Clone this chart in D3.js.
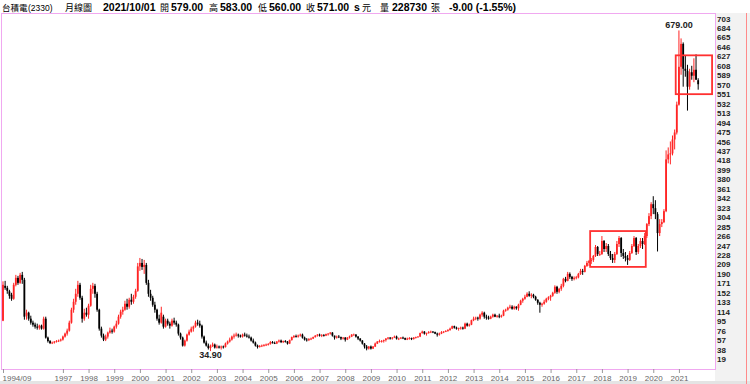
<!DOCTYPE html>
<html>
<head>
<meta charset="utf-8">
<script src="https://cdn.jsdelivr.net/npm/d3@7/dist/d3.min.js"></script>
<style>
  body { margin: 0; background: #fff; }
  svg { display: block; }
</style>
</head>
<body>
<svg id="chart" width="750" height="384"></svg>
<script>
// monthly candles, 1994/09 .. 2021/10, rows are [open, high, low, close]
var startYear = 1994, startMonth = 9;
var candles = [
  // 1994
  [96,175,95,168],[166,176,158,162],[162,166,150,156],[155,158,140,146],
  // 1995
  [148,152,136,140],[140,172,138,168],[168,188,165,182],[182,186,168,172],[172,192,170,188],[188,194,170,178],
  [178,182,98,104],[106,118,98,112],[112,114,96,100],[100,106,88,92],[92,96,84,88],[88,92,80,84],
  // 1996
  [84,90,78,82],[82,88,78,86],[86,88,78,80],[80,104,78,100],[100,104,60,62],[62,64,52,55],
  [55,57,49,51],[51,54,49,52],[52,55,50,54],[54,57,52,55],[55,58,53,56],[56,60,54,58],
  // 1997
  [58,66,56,64],[64,72,62,70],[70,80,66,76],[76,96,74,92],[92,122,90,118],[118,140,112,134],
  [134,160,128,150],[150,176,144,168],[168,172,138,142],[142,146,92,100],[100,120,96,112],[112,122,104,108],
  // 1998
  [108,130,100,126],[126,168,124,160],[160,172,150,166],[166,170,142,150],[150,154,114,118],[118,120,76,80],
  [80,84,62,66],[66,70,55,58],[58,68,55,64],[64,74,60,72],[72,82,70,76],[76,80,70,74],
  // 1999
  [74,86,72,84],[84,96,80,90],[90,108,88,104],[104,118,100,114],[114,124,108,118],[118,136,116,130],
  [130,140,118,124],[124,142,120,138],[138,150,128,134],[134,148,130,144],[144,160,140,156],[156,212,154,205],
  // 2000
  [205,222,196,212],[212,220,198,204],[204,218,190,208],[208,212,168,172],[172,178,144,150],[150,158,136,142],
  [142,146,124,128],[128,134,112,118],[118,120,96,100],[100,108,88,92],[92,124,90,112],[104,108,80,84],
  // 2001
  [84,100,82,96],[96,100,86,90],[90,94,80,86],[86,100,84,96],[96,102,88,92],[92,96,84,88],
  [88,90,66,70],[70,72,58,62],[62,64,44,46],[46,58,44,56],[56,70,54,68],[68,78,66,74],
  // 2002
  [74,84,72,80],[80,86,74,84],[84,96,82,92],[92,98,86,90],[90,96,82,86],[86,88,60,64],
  [64,66,50,52],[52,56,44,46],[46,50,38,41],[41,48,34.9,45],[45,52,43,48],[48,50,40,42],
  // 2003
  [42,48,40,44],[44,46,40,42],[42,46,38,44],[44,46,40,43],[43,52,42,50],[50,56,48,54],
  [54,62,52,58],[58,66,56,64],[64,70,60,66],[66,72,64,68],[68,70,62,66],[66,68,62,64],
  // 2004
  [64,70,62,68],[68,72,64,66],[66,70,62,64],[64,68,60,62],[62,64,54,56],[56,60,50,52],
  [52,54,44,46],[46,48,40,43],[43,47,42,45],[45,48,43,46],[46,49,44,47],[47,50,45,48],
  // 2005
  [48,51,46,49],[49,55,48,53],[53,55,50,51],[51,54,49,50],[50,55,49,54],[54,58,52,56],
  [56,58,51,53],[53,56,51,55],[55,57,52,54],[54,55,48,50],[50,58,49,57],[57,64,56,63],
  // 2006
  [63,67,61,65],[65,68,62,64],[64,68,62,66],[66,70,64,68],[68,70,60,62],[62,64,56,58],
  [58,61,54,57],[57,61,55,59],[59,62,57,60],[60,64,59,63],[63,67,62,66],[66,69,64,68],
  // 2007
  [68,70,64,66],[66,69,63,67],[67,69,64,66],[66,70,65,69],[69,71,66,70],[70,73,68,72],
  [72,73,64,66],[66,66,58,62],[62,66,60,64],[64,67,61,63],[63,64,57,60],[60,63,58,62],
  // 2008
  [62,63,54,58],[58,63,57,62],[62,66,60,64],[64,69,63,68],[68,70,66,68],[68,69,62,64],
  [64,65,57,60],[60,61,54,56],[56,57,48,50],[50,51,40,44],[44,47,36.4,40],[40,45,38,44],
  // 2009
  [44,46,38,40],[40,45,39,44],[44,52,43,50],[50,55,49,54],[54,58,52,55],[55,57,52,55],
  [55,58,52,57],[57,61,54,60],[60,63,58,62],[62,63,58,60],[60,63,58,62],[62,66,61,64],
  // 2010
  [64,66,58,60],[60,62,57,60],[60,63,59,62],[62,64,59,61],[61,62,57,58],[58,62,57,60],
  [60,63,58,61],[61,62,57,59],[59,63,58,62],[62,64,60,63],[63,65,62,64],[64,72,63,71],
  // 2011
  [71,76,70,74],[74,75,68,70],[70,72,66,71],[71,75,70,73],[73,76,71,74],[74,75,71,73],
  [73,74,69,70],[70,72,64,68],[68,72,66,70],[70,75,69,73],[73,75,71,74],[74,77,73,75],
  // 2012
  [75,79,74,77],[77,82,76,80],[80,86,79,85],[85,86,80,82],[82,84,78,80],[80,82,76,81],
  [81,84,78,82],[82,84,78,80],[80,92,79,90],[90,92,84,86],[86,90,84,88],[88,98,87,97],
  // 2013
  [97,104,95,100],[100,104,97,102],[102,104,96,100],[100,110,98,108],[108,115,104,112],[112,114,100,104],
  [104,108,98,102],[102,106,98,100],[100,106,99,104],[104,110,102,108],[108,110,103,104],[104,107,102,106],
  // 2014
  [106,110,101,104],[104,108,102,106],[106,118,105,116],[116,120,114,118],[118,124,116,122],[122,128,120,124],
  [124,127,118,120],[120,126,118,124],[124,125,118,121],[121,130,116,128],[128,138,127,136],[136,142,132,140],
  // 2015
  [140,148,138,144],[144,153,143,150],[150,155,144,146],[146,151,141,148],[148,150,141,144],[144,146,136,138],
  [138,139,128,132],[132,134,112,128],[128,132,124,130],[130,138,128,134],[134,142,132,140],[140,145,137,143],
  // 2016
  [143,148,136,146],[146,154,144,152],[152,167,150,164],[164,166,150,154],[154,162,151,160],[160,170,156,166],
  [166,182,163,180],[180,184,173,176],[176,194,175,190],[190,193,180,184],[184,186,176,180],[180,185,177,182],
  // 2017
  [182,186,179,183],[183,192,181,190],[190,200,188,196],[196,200,188,194],[194,208,193,206],[206,216,204,212],
  [212,218,206,216],[216,222,210,218],[218,228,214,226],[226,248,224,244],[244,246,226,230],[230,236,226,230],
  // 2018
  [230,266,228,256],[256,258,234,240],[240,252,234,246],[246,250,226,230],[230,236,218,222],[222,230,212,218],
  [218,234,212,230],[230,256,228,250],[250,266,244,262],[262,264,224,232],[232,240,220,226],[226,234,215,222],
  // 2019
  [222,228,208,218],[218,236,216,232],[232,250,230,246],[246,266,244,262],[262,264,228,234],[234,250,230,246],
  [246,262,242,256],[256,262,240,250],[250,272,248,266],[266,292,262,290],[290,312,286,306],[306,334,300,330],
  // 2020
  [330,346,310,322],[322,338,300,310],[310,314,235,272],[272,300,266,290],[290,300,284,294],[294,320,292,316],
  [316,438,314,420],[420,444,412,430],[430,456,410,432],[432,468,428,460],[460,480,440,474],[474,536,470,530],
  // 2021
  [530,679,528,606],[606,663,590,652],[652,655,566,602],[602,628,586,598],[598,610,518,566],[566,602,560,595],
  [595,608,580,588],[588,623,575,600],[600,631,580,580],[579,583,560,571]
];

var yTicks = [19,38,57,76,95,114,133,152,171,190,209,228,247,266,285,304,323,342,361,
              380,399,418,437,456,475,494,513,532,551,570,589,608,627,646,665,684,703];
var yearTicks = ["1994/09","1997/01","1998/01","1999/01","2000/01","2001/01","2002/01","2003/01",
                 "2004/01","2005/01","2006/01","2007/01","2008/01","2009/01","2010/01","2011/01",
                 "2012/01","2013/01","2014/01","2015/01","2016/01","2017/01","2018/01","2019/01",
                 "2020/01","2021/01"];
var yearLabels = ["1994/09","1997","1998","1999","2000","2001","2002","2003","2004","2005","2006",
                  "2007","2008","2009","2010","2011","2012","2013","2014","2015","2016","2017",
                  "2018","2019","2020","2021"];

// highlighted ranges drawn in red
var boxes = [
  { from: "2017/08", to: "2019/09", lo: 204, hi: 276 },
  { from: "2020/12", to: "2022/04", lo: 551, hi: 629 }
];

var headerParts = [
  { t: "台積電", x: 2, cls: "name" }, { t: "(2330)", x: 28, cls: "thin" },
  { t: "月線圖", x: 65, cls: "cjk" }, { t: "2021/10/01", x: 103, cls: "num" },
  { t: "開", x: 160, cls: "cjk" }, { t: "579.00", x: 171, cls: "num" },
  { t: "高", x: 209, cls: "cjk" }, { t: "583.00", x: 220, cls: "num" },
  { t: "低", x: 258, cls: "cjk" }, { t: "560.00", x: 269, cls: "num" },
  { t: "收", x: 306, cls: "cjk" }, { t: "571.00", x: 317, cls: "num" },
  { t: "s", x: 354, cls: "num" }, { t: "元", x: 362, cls: "cjk" },
  { t: "量", x: 380, cls: "cjk" }, { t: "228730", x: 392, cls: "num" },
  { t: "張", x: 431, cls: "cjk" }, { t: "-9.00 (-1.55%)", x: 449, cls: "num" }
];

function monthIndex(s) {
  var p = s.split("/");
  return (+p[0] - startYear) * 12 + (+p[1] - startMonth);
}

var svg = d3.select("#chart");
var plot = { left: 1, top: 13, right: 715, bottom: 369 };
var step = 2.139;

var x = d3.scaleLinear().domain([0, 325]).range([3, 3 + 325 * step]);
var y = d3.scaleLinear().domain([19, 703]).range([359, 18.5]);

// right axis panel and bottom strip
svg.append("rect").attr("x", plot.right).attr("y", plot.top).attr("width", 750 - plot.right)
  .attr("height", 384 - plot.top).attr("fill", "#f2f2f2");
svg.append("rect").attr("x", 0).attr("y", 381).attr("width", 750).attr("height", 3)
  .attr("fill", "#e4e4e4");
svg.append("line").attr("x1", 746.5).attr("x2", 746.5).attr("y1", plot.top).attr("y2", 384)
  .attr("stroke", "#ff8a8a").attr("stroke-width", 1);

// plot frame
svg.append("rect").attr("x", plot.left + 0.5).attr("y", plot.top + 0.5)
  .attr("width", plot.right - plot.left).attr("height", plot.bottom - plot.top)
  .attr("fill", "#fff").attr("stroke", "#f0a8f0").attr("stroke-width", 1);

// header
var fontSizes = { num: "10.5px", thin: "8.5px", cjk: "9px", name: "8.5px" };
svg.append("g").selectAll("text").data(headerParts).join("text")
  .attr("x", function(d) { return d.x; })
  .attr("y", 11)
  .attr("fill", "#000")
  .style("font-family", function(d) {
    if (d.cls === "cjk" || d.cls === "name") return "'Noto Sans CJK TC', sans-serif";
    if (d.cls === "thin") return "'Liberation Sans Narrow', 'Liberation Sans', sans-serif";
    return "'Liberation Sans', Arial, sans-serif";
  })
  .style("font-size", function(d) { return fontSizes[d.cls]; })
  .style("font-weight", function(d) { return d.cls === "num" ? "bold" : "normal"; })
  .text(function(d) { return d.t; });

// right axis
var yAxis = svg.append("g")
  .attr("transform", "translate(" + plot.right + ",0)")
  .call(d3.axisRight(y).tickValues(yTicks).tickSize(0).tickPadding(2));
yAxis.select(".domain").remove();
yAxis.selectAll("text")
  .attr("fill", "#222")
  .style("font-family", "'Liberation Sans', Arial, sans-serif")
  .style("font-size", "8px").style("font-weight", "bold");

// bottom axis
var xAxis = svg.append("g")
  .attr("transform", "translate(0," + plot.bottom + ")")
  .call(d3.axisBottom(x)
    .tickValues(yearTicks.map(monthIndex))
    .tickFormat(function(d, i) { return yearLabels[i]; })
    .tickSize(4).tickPadding(2));
xAxis.select(".domain").remove();
xAxis.selectAll(".tick line").attr("stroke", "#999");
xAxis.selectAll("text")
  .attr("fill", "#666")
  .style("font-family", "'Liberation Sans', Arial, sans-serif")
  .style("font-size", "8px");
xAxis.select(".tick text").attr("text-anchor", "start").attr("x", -1);

// candles
function candleColor(d) { return d[3] >= d[0] ? "#ff2424" : "#000"; }
var cg = svg.append("g");
cg.selectAll("line").data(candles).join("line")
  .attr("x1", function(d, i) { return x(i); })
  .attr("x2", function(d, i) { return x(i); })
  .attr("y1", function(d) { return y(d[1]); })
  .attr("y2", function(d) { return y(d[2]); })
  .attr("stroke", candleColor).attr("stroke-width", 1);
cg.selectAll("rect").data(candles).join("rect")
  .attr("x", function(d, i) { return x(i) - 0.9; })
  .attr("width", 1.8)
  .attr("y", function(d) { return y(Math.max(d[0], d[3])); })
  .attr("height", function(d) { return Math.max(0.8, Math.abs(y(d[0]) - y(d[3]))); })
  .attr("fill", candleColor);

// highest / lowest labels
var hiIdx = d3.maxIndex(candles, function(d) { return d[1]; });
var loIdx = d3.minIndex(candles, function(d) { return d[2]; });
var labelFont = "'Liberation Sans', Arial, sans-serif";
svg.append("text").attr("x", x(hiIdx)).attr("y", y(candles[hiIdx][1]) - 2)
  .attr("text-anchor", "middle").attr("fill", "#222")
  .style("font-family", labelFont).style("font-size", "9px").style("font-weight", "bold")
  .text(candles[hiIdx][1].toFixed(2));
svg.append("text").attr("x", x(loIdx)).attr("y", y(candles[loIdx][2]) + 7)
  .attr("text-anchor", "middle").attr("fill", "#222")
  .style("font-family", labelFont).style("font-size", "9px").style("font-weight", "bold")
  .text(candles[loIdx][2].toFixed(2));

// red boxes
svg.append("g").selectAll("rect").data(boxes).join("rect")
  .attr("x", function(d) { return x(monthIndex(d.from)) - step / 2; })
  .attr("width", function(d) { return x(monthIndex(d.to)) - x(monthIndex(d.from)) + step; })
  .attr("y", function(d) { return y(d.hi); })
  .attr("height", function(d) { return y(d.lo) - y(d.hi); })
  .attr("fill", "none").attr("stroke", "#ff3030").attr("stroke-width", 1.8);
</script>
</body>
</html>
